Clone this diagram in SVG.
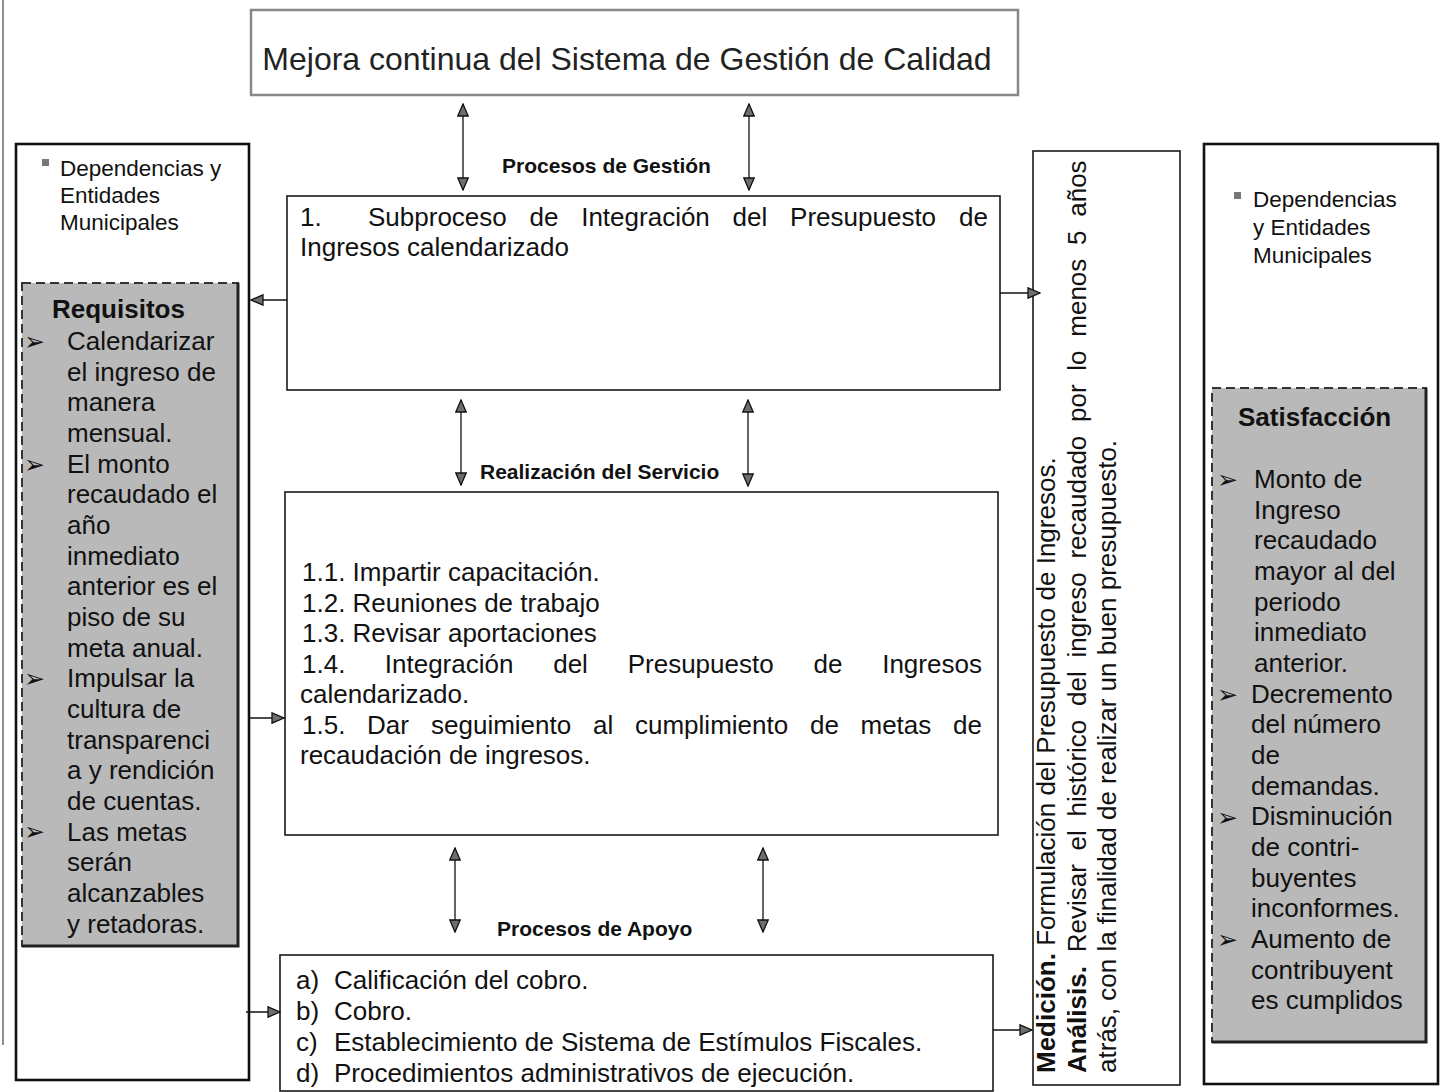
<svg xmlns="http://www.w3.org/2000/svg" width="1444" height="1092" viewBox="0 0 1444 1092">
  <style>
    .txt { font-family: "Liberation Sans", Arial, sans-serif; font-size: 26px; fill: #111; }
    .dep { font-family: "Liberation Sans", Arial, sans-serif; font-size: 22.5px; fill: #111; }
    .bold { font-weight: bold; }
    .lbl { font-family: "Liberation Sans", Arial, sans-serif; font-size: 21px; font-weight: bold; fill: #111; }
    .title { font-family: "Liberation Sans", Arial, sans-serif; font-size: 32px; fill: #222; }
    .chev { font-family: "DejaVu Sans", sans-serif; font-size: 25px; fill: #111; }
    .box { fill: #fff; stroke: #1a1a1a; stroke-width: 1.6; }
    .outer { fill: #fff; stroke: #111; stroke-width: 2.6; }
    .shade { fill: #b9b9b9; stroke: #333; stroke-width: 2; stroke-dasharray: 9 5; }
    .edge { stroke: #222; stroke-width: 3; fill: none; }
    .conn line { stroke: #111; stroke-width: 1.3; }
  </style>
  <defs>
    <marker id="head" viewBox="0 0 14 12" markerWidth="14" markerHeight="12" refX="13" refY="6" orient="auto-start-reverse" markerUnits="userSpaceOnUse">
      <path d="M1,0.8 L13,6 L1,11.2 z" fill="#6e6e6e" stroke="#111" stroke-width="1.3"/>
    </marker>
  </defs>

  <rect width="1444" height="1092" fill="#fff"/>
  <!-- sheet edge -->
  <line x1="3" y1="0" x2="3" y2="1045" stroke="#444" stroke-width="1.2"/>

  <!-- top: continuous improvement -->
  <g id="mejora">
    <rect x="251" y="10" width="767" height="85" fill="#fff" stroke="#888" stroke-width="2.5"/>
    <text class="title" x="627" y="70" text-anchor="middle">Mejora continua del Sistema de Gestión de Calidad</text>
  </g>

  <!-- left column: customers and requirements -->
  <g id="clientes">
    <rect class="outer" x="16" y="144" width="233" height="936"/>
    <rect x="42" y="159" width="7" height="7" fill="#777"/>
    <text class="dep" x="60" y="176">Dependencias y</text>
    <text class="dep" x="60" y="203">Entidades</text>
    <text class="dep" x="60" y="230">Municipales</text>
  </g>
  <g id="requisitos">
    <rect class="shade" x="22" y="283" width="216" height="663"/>
    <path class="edge" d="M238,283 V946 H22"/>
    <text class="txt bold" x="52" y="318">Requisitos</text>
    <text class="chev" x="24" y="350">➢</text>
    <text class="chev" x="24" y="473">➢</text>
    <text class="chev" x="24" y="687">➢</text>
    <text class="chev" x="24" y="840">➢</text>
    <text class="txt">
      <tspan x="67" y="350">Calendarizar</tspan>
      <tspan x="67" y="380.6">el ingreso de</tspan>
      <tspan x="67" y="411.3">manera</tspan>
      <tspan x="67" y="442">mensual.</tspan>
      <tspan x="67" y="472.6">El monto</tspan>
      <tspan x="67" y="503.3">recaudado el</tspan>
      <tspan x="67" y="534">año</tspan>
      <tspan x="67" y="564.6">inmediato</tspan>
      <tspan x="67" y="595.3">anterior es el</tspan>
      <tspan x="67" y="626">piso de su</tspan>
      <tspan x="67" y="656.6">meta anual.</tspan>
      <tspan x="67" y="687.3">Impulsar la</tspan>
      <tspan x="67" y="718">cultura de</tspan>
      <tspan x="67" y="748.6">transparenci</tspan>
      <tspan x="67" y="779.3">a y rendición</tspan>
      <tspan x="67" y="810">de cuentas.</tspan>
      <tspan x="67" y="840.6">Las metas</tspan>
      <tspan x="67" y="871.3">serán</tspan>
      <tspan x="67" y="902">alcanzables</tspan>
      <tspan x="67" y="932.6">y retadoras.</tspan>
    </text>
  </g>

  <!-- management process -->
  <g id="gestion">
    <rect class="box" x="287" y="196" width="713" height="194"/>
    <text class="txt">
      <tspan x="300" y="226">1.</tspan>
      <tspan x="368" y="226">Subproceso</tspan>
      <tspan x="529.5" y="226">de</tspan>
      <tspan x="581.2" y="226">Integración</tspan>
      <tspan x="732.6" y="226">del</tspan>
      <tspan x="790.1" y="226">Presupuesto</tspan>
      <tspan x="959" y="226">de</tspan>
      <tspan x="300" y="256">Ingresos calendarizado</tspan>
    </text>
  </g>

  <!-- service delivery -->
  <g id="servicio">
    <rect class="box" x="285" y="492" width="713" height="343"/>
    <text class="txt">
      <tspan x="302" y="581">1.1. Impartir capacitación.</tspan>
      <tspan x="302" y="611.5">1.2. Reuniones de trabajo</tspan>
      <tspan x="302" y="642">1.3. Revisar aportaciones</tspan>
      <tspan x="302" y="672.5">1.4.</tspan>
      <tspan x="384.8" y="672.5">Integración</tspan>
      <tspan x="553.2" y="672.5">del</tspan>
      <tspan x="627.7" y="672.5">Presupuesto</tspan>
      <tspan x="813.5" y="672.5">de</tspan>
      <tspan x="882.2" y="672.5">Ingresos</tspan>
      <tspan x="300" y="703">calendarizado.</tspan>
      <tspan x="302" y="733.5">1.5.</tspan>
      <tspan x="367" y="733.5">Dar</tspan>
      <tspan x="431" y="733.5">seguimiento</tspan>
      <tspan x="593" y="733.5">al</tspan>
      <tspan x="635" y="733.5">cumplimiento</tspan>
      <tspan x="810" y="733.5">de</tspan>
      <tspan x="860.5" y="733.5">metas</tspan>
      <tspan x="953" y="733.5">de</tspan>
      <tspan x="300" y="764">recaudación de ingresos.</tspan>
    </text>
  </g>

  <!-- support processes -->
  <g id="apoyo">
    <rect class="box" x="280" y="955" width="713" height="136"/>
    <text class="txt">
      <tspan x="296" y="989">a)</tspan><tspan x="334" y="989">Calificación del cobro.</tspan>
      <tspan x="296" y="1020">b)</tspan><tspan x="334" y="1020">Cobro.</tspan>
      <tspan x="296" y="1051">c)</tspan><tspan x="334" y="1051">Establecimiento de Sistema de Estímulos Fiscales.</tspan>
      <tspan x="296" y="1082">d)</tspan><tspan x="334" y="1082">Procedimientos administrativos de ejecución.</tspan>
    </text>
  </g>

  <!-- measurement and analysis -->
  <g id="medicion">
    <rect class="box" x="1033" y="151" width="147" height="934"/>
    <text class="txt" transform="translate(1055,1073) rotate(-90)"><tspan class="bold">Medición.</tspan> Formulación del Presupuesto de Ingresos.</text>
    <text class="txt" transform="translate(1085.5,1073) rotate(-90)" word-spacing="6.5"><tspan class="bold">Análisis.</tspan> Revisar el histórico del ingreso recaudado por lo menos 5 años</text>
    <text class="txt" transform="translate(1116,1073) rotate(-90)">atrás, con la finalidad de realizar un buen presupuesto.</text>
  </g>

  <!-- right column: customers and satisfaction -->
  <g id="clientes-salida">
    <rect class="outer" x="1204" y="144" width="234" height="940"/>
    <rect x="1234" y="192" width="7" height="7" fill="#777"/>
    <text class="dep" x="1253" y="207">Dependencias</text>
    <text class="dep" x="1253" y="235">y Entidades</text>
    <text class="dep" x="1253" y="263">Municipales</text>
  </g>
  <g id="satisfaccion">
    <rect class="shade" x="1212" y="388" width="214" height="654"/>
    <path class="edge" d="M1426,388 V1042 H1212"/>
    <text class="txt bold" x="1238" y="426">Satisfacción</text>
    <text class="chev" x="1217" y="488">➢</text>
    <text class="chev" x="1217" y="703">➢</text>
    <text class="chev" x="1217" y="826">➢</text>
    <text class="chev" x="1217" y="948">➢</text>
    <text class="txt">
      <tspan x="1254" y="488">Monto de</tspan>
      <tspan x="1254" y="518.6">Ingreso</tspan>
      <tspan x="1254" y="549.3">recaudado</tspan>
      <tspan x="1254" y="580">mayor al del</tspan>
      <tspan x="1254" y="610.6">periodo</tspan>
      <tspan x="1254" y="641.3">inmediato</tspan>
      <tspan x="1254" y="672">anterior.</tspan>
      <tspan x="1251" y="702.6">Decremento</tspan>
      <tspan x="1251" y="733.3">del número</tspan>
      <tspan x="1251" y="764">de</tspan>
      <tspan x="1251" y="794.6">demandas.</tspan>
      <tspan x="1251" y="825.3">Disminución</tspan>
      <tspan x="1251" y="856">de contri-</tspan>
      <tspan x="1251" y="886.6">buyentes</tspan>
      <tspan x="1251" y="917.3">inconformes.</tspan>
      <tspan x="1251" y="948">Aumento de</tspan>
      <tspan x="1251" y="978.6">contribuyent</tspan>
      <tspan x="1251" y="1009.3">es cumplidos</tspan>
    </text>
  </g>

  <!-- level labels -->
  <g id="niveles">
    <text class="lbl" x="502" y="173">Procesos de Gestión</text>
    <text class="lbl" x="480" y="479">Realización del Servicio</text>
    <text class="lbl" x="497" y="936">Procesos de Apoyo</text>
  </g>

  <!-- connectors -->
  <g id="connectors" class="conn">
    <line x1="463" y1="104" x2="463" y2="190" marker-start="url(#head)" marker-end="url(#head)"/>
    <line x1="749" y1="104" x2="749" y2="190" marker-start="url(#head)" marker-end="url(#head)"/>
    <line x1="461" y1="400" x2="461" y2="485" marker-start="url(#head)" marker-end="url(#head)"/>
    <line x1="748" y1="400" x2="748" y2="486" marker-start="url(#head)" marker-end="url(#head)"/>
    <line x1="455" y1="848" x2="455" y2="932" marker-start="url(#head)" marker-end="url(#head)"/>
    <line x1="763" y1="848" x2="763" y2="932" marker-start="url(#head)" marker-end="url(#head)"/>
    <line x1="287" y1="300" x2="251" y2="300" marker-end="url(#head)"/>
    <line x1="1000" y1="293" x2="1040" y2="293" marker-end="url(#head)"/>
    <line x1="249" y1="718" x2="284" y2="718" marker-end="url(#head)"/>
    <line x1="246" y1="1012" x2="280" y2="1012" marker-end="url(#head)"/>
    <line x1="993" y1="1030" x2="1032" y2="1030" marker-end="url(#head)"/>
  </g>
</svg>
